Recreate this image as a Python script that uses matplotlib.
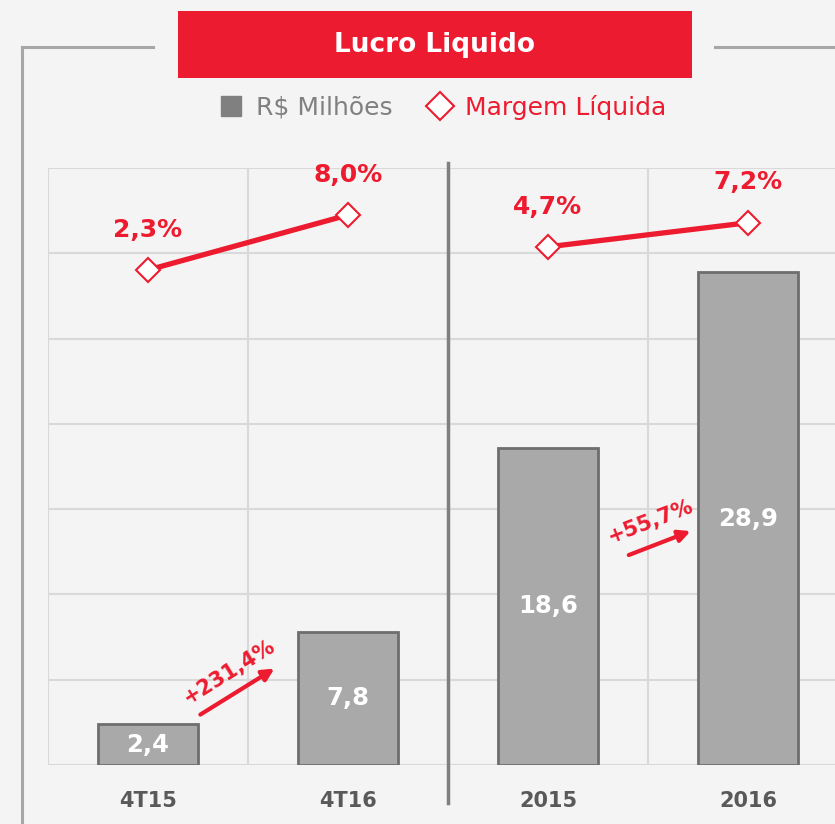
import matplotlib
matplotlib.use("Agg")
import matplotlib.pyplot as plt
from matplotlib.lines import Line2D
from matplotlib.patches import Rectangle

# ---- data ----
categories = ["4T15", "4T16", "2015", "2016"]
lucro = [2.4, 7.8, 18.6, 28.9]
lucro_labels = ["2,4", "7,8", "18,6", "28,9"]
margem = [2.3, 8.0, 4.7, 7.2]
margem_labels = ["2,3%", "8,0%", "4,7%", "7,2%"]
growth_labels = ["+231,4%", "+55,7%"]

RED = "#ED1B2F"
BG = "#f4f4f4"
W, H = 835, 824

plt.rcParams['font.family'] = ['DejaVu Sans']
fig = plt.figure(figsize=(W / 100, H / 100), dpi=100, facecolor=BG)

def fx(px):
    return px / W

def fy(py):
    return 1 - py / H

ax = fig.add_axes([fx(48), fy(765), fx(835) - fx(48), fy(168) - fy(765)])
ax.set_facecolor(BG)
x = list(range(len(categories)))

bars = ax.bar(x, lucro, width=0.5, color="#a9a9a9", edgecolor="#6e6e6e",
              linewidth=2, zorder=3)
ax.bar_label(bars, labels=lucro_labels, label_type='center', color="white",
             fontsize=17.5, fontweight='bold')

ax.set_xlim(-0.5, 3.435)
ax.set_ylim(0, 35)
ax.set_yticks([0, 5, 10, 15, 20, 25, 30, 35])
ax.set_xticks(x)
ax.set_xticklabels(categories, fontsize=15, fontweight='bold', color="#595959")
ax.set_xticks([-0.5, 0.5, 2.5], minor=True)
ax.tick_params(axis='x', which='both', length=0, pad=19)
ax.tick_params(axis='y', length=0, labelleft=False)
ax.grid(True, axis='y', color="#d9d9d9", linewidth=1.5, zorder=0)
ax.grid(True, axis='x', which='minor', color="#d9d9d9", linewidth=1.5, zorder=0)
for s in ax.spines.values():
    s.set_visible(False)

# divider
ax.axvline(1.5, ymin=-0.064, ymax=1.008, color="#7f7f7f", linewidth=2.5,
           clip_on=False, zorder=4)

# growth arrows
ax.annotate("", xy=(0.644, 5.74), xytext=(0.25, 2.87),
            arrowprops=dict(arrowstyle="-|>,head_length=0.7,head_width=0.35",
                            color=RED, lw=3), zorder=5)
ax.text(0.404, 5.45, growth_labels[0], rotation=32, color=RED, fontsize=15,
        fontweight='bold', ha='center', va='center', zorder=5)
ax.annotate("", xy=(2.726, 13.77), xytext=(2.391, 12.25),
            arrowprops=dict(arrowstyle="-|>,head_length=0.7,head_width=0.35",
                            color=RED, lw=3), zorder=5)
ax.text(2.511, 14.3, growth_labels[1], rotation=21, color=RED, fontsize=15,
        fontweight='bold', ha='center', va='center', zorder=5)

# margin line on secondary axis
ax2 = ax.twinx()
ax2.set_ylim(-49.0, 12.87)
ax2.axis('off')
for seg in [(0, 2), (2, 4)]:
    xs = x[seg[0]:seg[1]]
    ys = margem[seg[0]:seg[1]]
    ax2.plot(xs, ys, color=RED, linewidth=3.8, marker='D', markersize=12,
             markerfacecolor='white', markeredgecolor=RED, markeredgewidth=1.5,
             zorder=6)
for xi, yi, lab in zip(x, margem, margem_labels):
    ax2.annotate(lab, (xi, yi), xytext=(0, 29), textcoords='offset points',
                 ha='center', va='center', color=RED, fontsize=18,
                 fontweight='bold')

# title box
fig.patches.append(Rectangle((fx(178), fy(78)), fx(692) - fx(178), fy(11) - fy(78),
                             transform=fig.transFigure, facecolor=RED,
                             edgecolor='none'))
fig.text(fx(435), fy(45), "Lucro Liquido", color='white', fontsize=19,
         fontweight='bold', ha='center', va='center')

# frame lines
fc = "#a6a6a6"
fig.add_artist(Line2D([fx(22), fx(153)], [fy(47), fy(47)], color=fc, lw=2.2,
                      transform=fig.transFigure))
fig.add_artist(Line2D([fx(22), fx(22)], [fy(47), fy(824)], color=fc, lw=2.2,
                      transform=fig.transFigure))
fig.add_artist(Line2D([fx(715), fx(835)], [fy(47), fy(47)], color=fc, lw=2.2,
                      transform=fig.transFigure))

# legend
handles = [Line2D([], [], linestyle='none', marker='s', markersize=14,
                  markerfacecolor="#808080", markeredgecolor="#808080"),
           Line2D([], [], linestyle='none', marker='D', markersize=14,
                  markerfacecolor='white', markeredgecolor=RED,
                  markeredgewidth=1.5)]
leg = fig.legend(handles, ["R$ Milhões", "Margem Líquida"], loc='center',
                 bbox_to_anchor=(fx(441), fy(107)), ncol=2, frameon=False,
                 fontsize=18, handletextpad=0.4, columnspacing=1.3,
                 handlelength=1.2)
leg.get_texts()[0].set_color("#808080")
leg.get_texts()[1].set_color(RED)

fig.savefig("out.png", dpi=100, facecolor=BG)
